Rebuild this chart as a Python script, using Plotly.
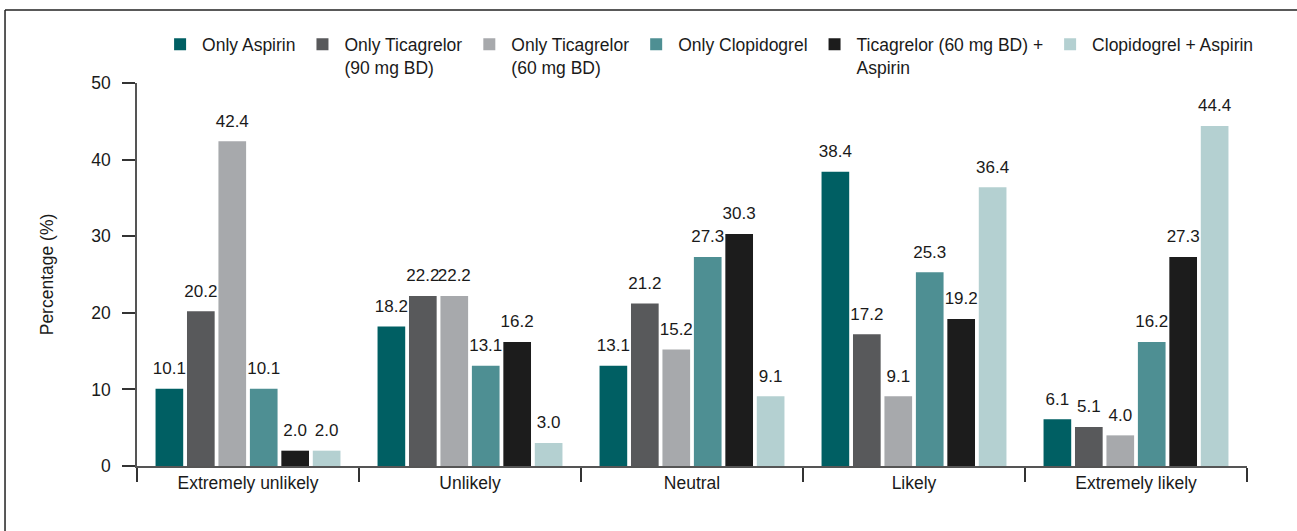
import plotly.graph_objects as go

categories = ["Extremely unlikely", "Unlikely", "Neutral", "Likely", "Extremely likely"]
series_names = ["Only Aspirin", "Only Ticagrelor<br>(90 mg BD)", "Only Ticagrelor<br>(60 mg BD)",
                "Only Clopidogrel", "Ticagrelor (60 mg BD) +<br>Aspirin", "Clopidogrel + Aspirin"]
only_aspirin = [10.1, 18.2, 13.1, 38.4, 6.1]
only_tica_90 = [20.2, 22.2, 21.2, 17.2, 5.1]
only_tica_60 = [42.4, 22.2, 15.2, 9.1, 4.0]
only_clopi = [10.1, 13.1, 27.3, 25.3, 16.2]
tica_aspirin = [2.0, 16.2, 30.3, 19.2, 27.3]
clopi_aspirin = [2.0, 3.0, 9.1, 36.4, 44.4]
series_values = [only_aspirin, only_tica_90, only_tica_60, only_clopi, tica_aspirin, clopi_aspirin]
colors = ["#005f63", "#58595b", "#a7a9ac", "#4e8f93", "#1c1c1c", "#b4d0d1"]
y_ticks = [0, 10, 20, 30, 40, 50]

FONT = "Liberation Sans, Arial, sans-serif"
FS = 17.5

fig = go.Figure()
for name, vals, col in zip(series_names, series_values, colors):
    fig.add_trace(go.Bar(
        x=categories, y=vals, name=name,
        marker=dict(color=col, line=dict(width=0)),
        cliponaxis=False,
    ))
# value labels, grouped the same way as the bars
for name, vals in zip(series_names, series_values):
    fig.add_trace(go.Scatter(
        x=categories, y=vals, mode="markers+text", showlegend=False, hoverinfo="skip",
        marker=dict(size=15, opacity=0),
        text=[f"{v:.1f}" for v in vals], textposition="top center",
        textfont=dict(size=17, color="#1a1a1a", family=FONT),
        cliponaxis=False,
    ))

fig.update_layout(
    width=1297, height=531,
    margin=dict(l=137, r=50, t=83, b=65),
    paper_bgcolor="white", plot_bgcolor="white",
    font=dict(family=FONT, size=FS, color="#1a1a1a"),
    barmode="group", bargap=0.15, bargroupgap=0.12,
    scattermode="group", scattergap=0.15,
    showlegend=True,
    legend=dict(orientation="h", x=0.019, xanchor="left", y=1.148, yanchor="top",
                font=dict(size=FS, family=FONT, color="#1a1a1a"),
                bgcolor="rgba(0,0,0,0)",
                itemwidth=34, tracegroupgap=0, valign="top", traceorder="normal"),
    xaxis=dict(showline=True, linecolor="#555555", linewidth=1.5, ticks="outside",
               tickson="boundaries", ticklen=14, tickcolor="#333333", tickwidth=1.5,
               showgrid=False, tickfont=dict(size=FS), zeroline=False),
    yaxis=dict(range=[0, 50], tickvals=y_ticks, showline=True, linecolor="#555555",
               linewidth=1.5, ticks="outside", ticklen=13, tickcolor="#333333", tickwidth=1.5,
               ticklabelstandoff=8,
               showgrid=False, zeroline=False, tickfont=dict(size=FS),
               title=dict(text="Percentage (%)", font=dict(size=FS), standoff=33)),
    shapes=[
        dict(type="line", xref="paper", yref="paper", x0=-0.1189, x1=1.05, y0=1.1906, y1=1.1906,
             line=dict(color="#222222", width=1.5)),
        dict(type="line", xref="paper", yref="paper", x0=-0.1189, x1=-0.1189, y0=1.1906, y1=-0.2,
             line=dict(color="#222222", width=1.5)),
    ],
)

fig.write_html("out.html", config={"displayModeBar": False},
               post_script="document.body.style.margin='0';")
